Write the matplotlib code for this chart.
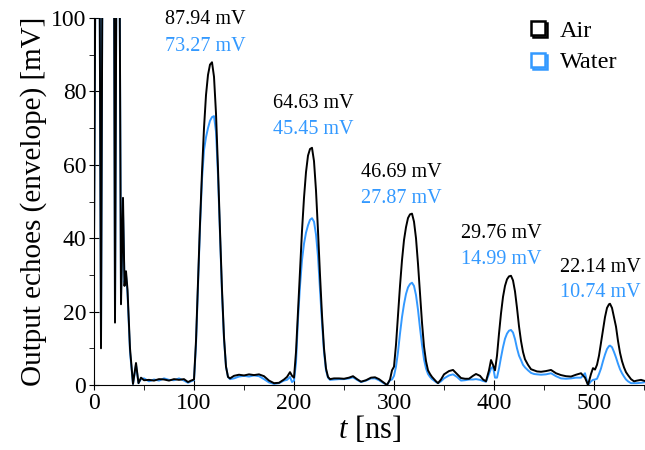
import matplotlib
matplotlib.use("Agg")
import matplotlib.pyplot as plt
import matplotlib.patheffects as pe
from matplotlib.lines import Line2D
from matplotlib.ticker import MultipleLocator

plt.rcParams['font.family'] = ['Liberation Serif', 'DejaVu Serif']
plt.rcParams['mathtext.fontset'] = 'custom'
plt.rcParams['mathtext.rm'] = 'Liberation Serif'
plt.rcParams['mathtext.it'] = 'Liberation Serif:italic'

BLUE = '#3399ff'

# time axis [ns] (shared by both traces)
t_ns = [0, 1.5, 5.5, 7, 8.5, 20, 21, 22.5, 25.5, 27, 29, 30.5, 32, 33.5, 36, 39,
        42, 44.5, 47, 50, 55, 60, 65, 70, 75, 80, 85, 90, 94, 97,
        100, 102, 104, 106, 108, 110, 112, 114, 116, 118, 120, 122, 124, 126, 128, 130, 132, 134,
        136, 140, 145, 150, 155, 160, 165, 170, 175, 180, 185, 190, 193, 196, 198,
        200, 202, 204, 206, 208, 210, 212, 214, 216, 218, 220, 222, 224, 226, 228, 230, 232, 234,
        236, 240, 245, 250, 255, 259, 263, 267, 272, 277, 281, 285, 289, 293, 296,
        298, 300, 302, 304, 306, 308, 310, 312, 314, 316, 318, 320, 322, 324, 326, 328, 330, 332,
        334, 336, 338, 340, 342, 344,
        347, 350, 355, 359, 363, 367, 371, 375, 379, 382, 386, 389,
        392, 395, 397, 399, 401, 403, 405, 407, 409, 411, 413, 415, 417, 419, 421, 423, 425, 427,
        429, 431, 434, 437, 440, 443,
        447, 452, 457, 462, 467, 472, 477, 482, 487, 491, 494, 497, 499, 501,
        503, 505, 507, 509, 511, 513, 515, 516, 518, 520, 522, 524, 526, 528, 530, 532, 534, 537,
        540, 543, 547, 552]

# envelope, air [mV]
air_mv = [37, 120, 120, 10, 120, 120, 17, 120, 120, 22, 51, 27, 31, 26, 10, 0.3,
          6, 0.5, 2, 1.3, 1.4, 1.2, 1.6, 1.5, 1.2, 1.6, 1.4, 1.6, 0.8, 1.2,
          1.5, 12, 28, 44, 58, 70, 79, 84.5, 87.3, 87.94, 84, 74, 59, 42, 26, 13, 5, 2.2,
          1.8, 2.5, 2.8, 2.6, 2.9, 2.7, 2.9, 2.4, 1.2, 0.5, 0.6, 1.5, 2.2, 3.5, 2.5,
          2, 9, 20, 31, 42, 51, 58, 62.5, 64.3, 64.63, 61, 53, 42, 30, 19, 10, 4.5, 2.2,
          1.6, 1.8, 1.8, 1.7, 2.0, 2.4, 1.6, 0.9, 1.3, 2.0, 2.1, 1.6, 0.8, 0.0, 1.5,
          4, 5, 11, 19, 27, 34, 39.5, 43, 45.5, 46.5, 46.69, 44.5, 40, 33, 25, 17, 10.5, 6.5,
          4, 3, 2.2, 1.6, 1, 0.5,
          1.5, 2.9, 3.8, 4.1, 3, 1.9, 1.7, 1.7, 2.5, 3, 2.5, 1.5,
          1.0, 4, 6.8, 5.5, 4, 8, 14, 19.5, 24, 27, 28.8, 29.6, 29.76, 28.5, 25.5, 21, 16, 12,
          9, 7, 5.5, 4.3, 4, 3.7,
          3.6, 3.8, 4.1, 3.2, 2.7, 2.4, 2.3, 2.8, 3.2, 2.0, 0, 3, 4.6, 4.2,
          5.5, 8, 11.5, 15, 18.5, 21, 22, 22.14, 21, 18.5, 15.9, 12, 8.8, 6.5, 4.8, 3.5, 2.7, 1.6,
          1.0, 1.2, 1.4, 1.0]

# envelope, water [mV]
water_mv = [40, 120, 120, 11, 120, 120, 18, 120, 120, 24, 47, 28, 30, 25, 9, 0.3,
            5.5, 0.5, 1.6, 1.8, 1.0, 1.5, 1.2, 1.8, 1.4, 1.3, 1.8, 1.2, 0.6, 1.0,
            1.3, 11, 27, 43, 56, 64, 67.5, 70, 72, 73.0, 73.27, 69, 57, 41, 25, 12.5, 5, 2.2,
            1.6, 1.8, 2.3, 2.5, 2.3, 2.6, 2.4, 1.6, 0.7, 0.3, 0.5, 1.2, 1.4, 2.2, 0.8,
            1.2, 6, 18, 27, 34, 38.5, 41.5, 43.5, 45, 45.45, 44.5, 41, 35, 26, 17, 9, 4, 2,
            1.4, 1.5, 1.6, 1.6, 1.8, 2.1, 1.4, 0.8, 1.2, 1.8, 1.8, 1.3, 0.6, 0.0, 1.3,
            1.5, 2.5, 5, 9, 14, 18.5, 22, 24.8, 26.6, 27.5, 27.87, 27, 24.5, 20.5, 15.5, 11, 7, 4.5,
            3, 2.2, 1.6, 1.2, 0.8, 0.5,
            1.0, 1.8, 2.6, 2.9, 2.2, 1.2, 1.3, 1.5, 1.5, 1.6, 1.4, 1.1,
            0.9, 3, 4.5, 5, 2, 2, 4.5, 7.5, 10.3, 12.6, 14, 14.8, 14.99, 14.3, 12.5, 10, 8, 6.8,
            5.5, 4.8, 4, 3.3, 3, 2.9,
            2.8, 2.9, 3.2, 2.4, 1.8, 1.7, 1.8, 2.0, 2.0, 3.2, 0, 1.0, 1.4, 1.5,
            1.7, 3, 4.5, 6.5, 8.3, 9.8, 10.6, 10.74, 10.3, 9, 7.5, 5.8, 4.3, 3.2, 2.3, 1.5, 1.0, 0.5,
            0.5, 0.5, 0.6, 0.8]

# peak labels
air_peaks = ["87.94 mV", "64.63 mV", "46.69 mV", "29.76 mV", "22.14 mV"]
water_peaks = ["73.27 mV", "45.45 mV", "27.87 mV", "14.99 mV", "10.74 mV"]
label_x = [111, 219, 307, 407, 466]
label_y_air = [99.5, 76.6, 57.8, 41.4, 31.9]
label_y_water = [92.2, 69.5, 50.7, 34.3, 25.3]
label_ha = ['center', 'center', 'center', 'center', 'left']

fig = plt.figure(figsize=(6.45, 4.5), dpi=100)
ax = fig.add_axes([94 / 645, 65 / 450, 1 - 94 / 645, 367 / 450])

ax.plot(t_ns, water_mv, color=BLUE, lw=1.4)
ax.plot(t_ns, air_mv, color='black', lw=1.4)

for i in range(len(air_peaks)):
    ax.text(label_x[i], label_y_air[i], air_peaks[i], color='black', fontsize=14.5,
            ha=label_ha[i], va='center', clip_on=False)
    ax.text(label_x[i], label_y_water[i], water_peaks[i], color=BLUE, fontsize=14.5,
            ha=label_ha[i], va='center', clip_on=False)

ax.set_xlim(0, 551)
ax.set_ylim(0, 100)
ax.spines['top'].set_visible(False)
ax.spines['right'].set_visible(False)
ax.xaxis.set_major_locator(MultipleLocator(100))
ax.xaxis.set_minor_locator(MultipleLocator(50))
ax.yaxis.set_major_locator(MultipleLocator(20))
ax.yaxis.set_minor_locator(MultipleLocator(10))
ax.tick_params(axis='both', which='major', direction='inout', length=7, labelsize=17, pad=2)
ax.tick_params(axis='both', which='minor', direction='out', length=3.5)
ax.set_xlabel('$t$ [ns]', fontsize=22, labelpad=0)
ax.set_ylabel('Output echoes (envelope) [mV]', fontsize=21, labelpad=3)

handles = []
for name, c in [('Air', 'black'), ('Water', BLUE)]:
    h = Line2D([], [], ls='none', marker='s', ms=10, mfc='white', mec=c, mew=1.8, label=name,
               path_effects=[pe.SimpleLineShadow(offset=(1.5, -1.5), shadow_color=c, alpha=1),
                             pe.Normal()])
    handles.append(h)
fig.legend(handles=handles, loc='upper left', bbox_to_anchor=(514 / 645, 1 - 10 / 450),
           frameon=False, fontsize=17.5, handletextpad=0.3, labelspacing=0.4,
           handlelength=1.2, borderaxespad=0)

fig.savefig('out.png', dpi=100)
